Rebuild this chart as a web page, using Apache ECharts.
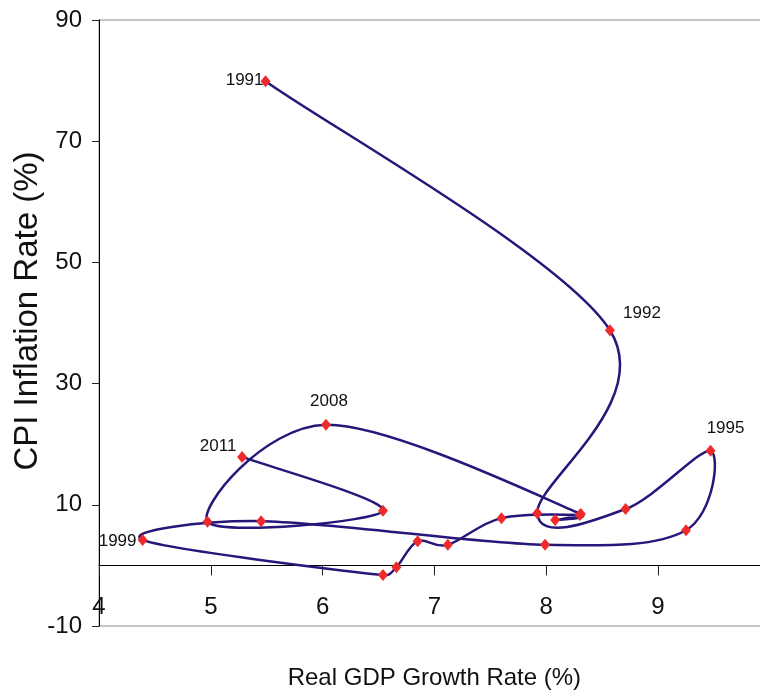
<!DOCTYPE html>
<html>
<head>
<meta charset="utf-8">
<script src="https://cdn.jsdelivr.net/npm/echarts@6/dist/echarts.min.js"></script>
<style>
html,body{margin:0;padding:0;background:#fff;}
#chart{width:760px;height:692px;}
</style>
</head>
<body>
<div id="chart"></div>
<script>
// Data
const years = [1991,1992,1993,1994,1995,1996,1997,1998,1999,2000,2001,2002,2003,2004,2005,2006,2007,2008,2009,2010,2011];
const gdpGrowth = [5.49,8.57,7.92,8.71,9.47,9.25,7.99,5.45,4.39,6.54,6.66,6.85,7.12,7.60,8.30,8.08,8.31,6.03,4.97,6.54,5.28];
const cpiInflation = [79.9,38.8,8.6,9.3,18.9,5.8,3.4,7.3,4.2,-1.6,-0.3,4.0,3.4,7.8,8.3,7.5,8.5,23.2,7.2,9.0,17.9];
const labeledYears = [1991,1992,1995,1999,2008,2011];
const xTicks = [4,5,6,7,8,9];
const yTicks = [-10,10,30,50,70,90];

// label placement (style)
const labelOffsets = {
  1991: [-21, -1],
  1992: [32, -17],
  1995: [15, -23],
  1999: [-25, 1],
  2008: [3, -23],
  2011: [-24, -11]
};

function fontAvailable(name) {
  const c = document.createElement('canvas').getContext('2d');
  const s = 'Real GDP Growth 1991';
  c.font = '40px monospace';
  const w1 = c.measureText(s).width;
  c.font = "40px '" + name + "', monospace";
  const w2 = c.measureText(s).width;
  c.font = '40px serif';
  const w3 = c.measureText(s).width;
  c.font = "40px '" + name + "', serif";
  const w4 = c.measureText(s).width;
  return w1 !== w2 || w3 !== w4;
}
const hasNarrow = fontAvailable('Liberation Sans Narrow');
const narrow = hasNarrow ? "'Liberation Sans Narrow'" : "'Liberation Sans',Arial,sans-serif";
const regular = "'Liberation Sans',Arial,sans-serif";
const sz = hasNarrow
  ? { tick: 25, name: 29, label: 19 }
  : { tick: 24, name: 24, label: 17 };

const points = years.map((yr, i) => [gdpGrowth[i], cpiInflation[i]]);

const scatterData = years.map((yr, i) => {
  const item = { value: points[i] };
  if (labeledYears.indexOf(yr) >= 0) {
    item.label = {
      show: true,
      formatter: String(yr),
      position: 'inside',
      offset: labelOffsets[yr],
      fontFamily: narrow,
      fontSize: sz.label,
      color: '#111'
    };
  }
  return item;
});

// Spreadsheet-style smoothed curve (Catmull-Rom 1/6 arms, capped at half the segment),
// computed from the data through the grid's coordinate system.
function dist(a, b) { return Math.hypot(a[0] - b[0], a[1] - b[1]); }
function renderCurve(params, api) {
  if (params.dataIndex !== 0) return null;
  const P = points.map(p => api.coord(p));
  const n = P.length;
  const children = [];
  for (let i = 0; i < n - 1; i++) {
    const p0 = P[Math.max(i - 1, 0)], p1 = P[i], p2 = P[i + 1], p3 = P[Math.min(i + 2, n - 1)];
    const d12 = dist(p1, p2), d02 = dist(p0, p2), d13 = dist(p1, p3);
    let f = 1 / 6, g = 1 / 6;
    if (d02 / 6 >= d12 / 2 && d02 > 0) f = d12 / 2 / d02;
    if (d13 / 6 >= d12 / 2 && d13 > 0) g = d12 / 2 / d13;
    children.push({
      type: 'bezierCurve',
      shape: {
        x1: p1[0], y1: p1[1],
        cpx1: p1[0] + (p2[0] - p0[0]) * f, cpy1: p1[1] + (p2[1] - p0[1]) * f,
        cpx2: p2[0] - (p3[0] - p1[0]) * g, cpy2: p2[1] - (p3[1] - p1[1]) * g,
        x2: p2[0], y2: p2[1]
      },
      style: { stroke: '#27177a', lineWidth: 2.5, fill: null, lineCap: 'round', lineJoin: 'round' }
    });
  }
  return { type: 'group', children: children };
}

const chart = echarts.init(document.getElementById('chart'), null, {renderer: 'canvas'});
chart.setOption({
  backgroundColor: '#fff',
  animation: false,
  grid: {
    left: 99, right: -9.8, top: 20, bottom: 66,
    outerBoundsMode: 'none',
    containLabel: false,
    show: true, borderColor: '#8c8c8c', borderWidth: 1, backgroundColor: 'transparent'
  },
  xAxis: {
    type: 'value',
    min: 4, max: 10, interval: 1,
    name: 'Real GDP Growth Rate (%)',
    nameLocation: 'middle',
    nameGap: 40,
    nameMoveOverlap: false,
    nameTextStyle: { fontFamily: narrow, fontSize: sz.name, color: '#111' },
    axisLine: { onZero: true, lineStyle: { color: '#000', width: 1 } },
    axisTick: { show: true, length: 10, lineStyle: { color: '#222', width: 1 } },
    axisLabel: {
      fontFamily: narrow, fontSize: sz.tick, color: '#111', margin: -31,
      showMaxLabel: false,
      formatter: v => (xTicks.indexOf(v) >= 0 ? String(v) : '')
    },
    splitLine: { show: false }
  },
  yAxis: {
    type: 'value',
    min: -10, max: 90, interval: 20,
    name: 'CPI Inflation Rate (%)',
    nameLocation: 'middle',
    nameRotate: 90,
    nameGap: 55,
    nameMoveOverlap: false,
    nameTextStyle: { fontFamily: regular, fontSize: 33, color: '#111', padding: [0, 0, 0, 24] },
    axisLine: { show: true, lineStyle: { color: '#000', width: 1 } },
    axisTick: { show: true, length: 7, lineStyle: { color: '#222', width: 1 } },
    axisLabel: {
      fontFamily: narrow, fontSize: sz.tick, color: '#111', margin: 17,
      formatter: v => (yTicks.indexOf(v) >= 0 ? String(v) : '')
    },
    splitLine: { show: false }
  },
  series: [{
    type: 'custom',
    renderItem: renderCurve,
    data: points,
    clip: false,
    silent: true,
    z: 2
  }, {
    type: 'scatter',
    data: scatterData,
    symbol: 'diamond',
    symbolSize: [10, 12],
    itemStyle: { color: '#ee2a2a', borderWidth: 0, opacity: 1 },
    label: { show: false },
    z: 3
  }]
});
</script>
</body>
</html>
